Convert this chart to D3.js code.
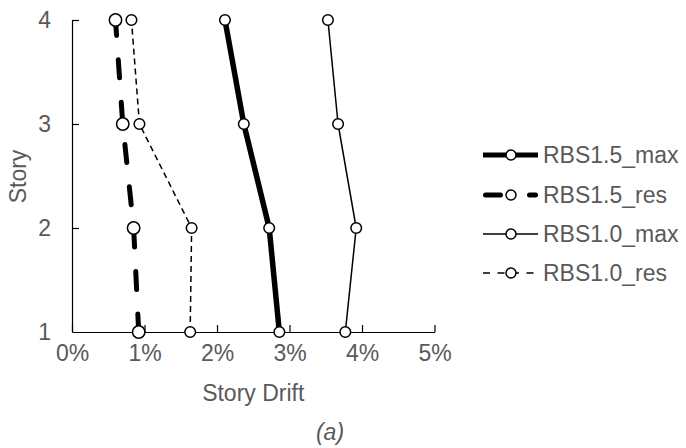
<!DOCTYPE html>
<html>
<head>
<meta charset="utf-8">
<script src="https://cdn.jsdelivr.net/npm/d3@7"></script>
<style>
  html, body { margin: 0; padding: 0; background: #fff; }
  svg { display: block; }
  text { font-family: "Liberation Sans", Arial, sans-serif; fill: #595959; }
</style>
</head>
<body>
<svg id="chart" width="686" height="448"></svg>
<script>
// Story drift per floor (percent)
const stories = [1, 2, 3, 4];
const rbs15Max = [2.86, 2.72, 2.37, 2.11];
const rbs15Res = [0.92, 0.85, 0.70, 0.60];
const rbs10Max = [3.77, 3.92, 3.67, 3.53];
const rbs10Res = [1.63, 1.65, 0.93, 0.82];

const xTicks = [0, 1, 2, 3, 4, 5];
const yTicks = [1, 2, 3, 4];

const seriesNames = ["RBS1.5_max", "RBS1.5_res", "RBS1.0_max", "RBS1.0_res"];
const seriesValues = [rbs15Max, rbs15Res, rbs10Max, rbs10Res];

// Line styles per series
const styles = [
  { width: 5.5, dash: null, cap: "butt", r: 5.3, legendDash: null },
  { width: 5, dash: "18,24.5", cap: "round", r: 6.2, legendDash: "15,29" },
  { width: 1.5, dash: null, cap: "butt", r: 5.3, legendDash: null },
  { width: 1.5, dash: "6,4", cap: "butt", r: 5.3, legendDash: "7,7.5" }
];

const svg = d3.select("#chart");
const fontSize = 23;

const x = d3.scaleLinear().domain([0, 5]).range([72, 434.5]);
const y = d3.scaleLinear().domain([1, 4]).range([332, 20]);

// Axes with inward ticks
const xAxis = d3.axisBottom(x)
  .tickValues(xTicks)
  .tickFormat(d => d + "%")
  .tickSize(-7)
  .tickSizeOuter(0)
  .tickPadding(13);

const yAxis = d3.axisLeft(y)
  .tickValues(yTicks)
  .tickFormat(d3.format("d"))
  .tickSize(-7)
  .tickSizeOuter(0)
  .tickPadding(21);

const gx = svg.append("g").attr("transform", `translate(0,${y(1)})`).call(xAxis);
const gy = svg.append("g").attr("transform", `translate(${x(0)},0)`).call(yAxis);

[gx, gy].forEach(g => {
  g.select(".domain").attr("stroke", "#000").attr("stroke-width", 1.2);
  g.selectAll(".tick line").attr("stroke", "#000").attr("stroke-width", 1.2);
  g.selectAll(".tick text")
    .attr("font-family", "Liberation Sans, Arial, sans-serif")
    .attr("font-size", fontSize)
    .attr("fill", "#595959");
});
gy.select(".tick:first-of-type line").remove();

// Axis titles
svg.append("text")
  .attr("x", (x(0) + x(5)) / 2)
  .attr("y", 401)
  .attr("text-anchor", "middle")
  .attr("font-size", fontSize)
  .text("Story Drift");

svg.append("text")
  .attr("transform", `translate(26,176.5) rotate(-90)`)
  .attr("text-anchor", "middle")
  .attr("font-size", fontSize)
  .text("Story");

svg.append("text")
  .attr("x", 330)
  .attr("y", 440)
  .attr("text-anchor", "middle")
  .attr("font-size", fontSize)
  .attr("font-style", "italic")
  .text("(a)");

// Series lines and markers
const line = d3.line()
  .x(d => x(d.v))
  .y(d => y(d.s));

seriesValues.forEach((vals, i) => {
  const st = styles[i];
  const pts = stories.map((s, k) => ({ s, v: vals[k] }));
  const g = svg.append("g");
  g.append("path")
    .datum(pts)
    .attr("d", line)
    .attr("fill", "none")
    .attr("stroke", "#000")
    .attr("stroke-width", st.width)
    .attr("stroke-linecap", st.cap)
    .attr("stroke-linejoin", "round")
    .attr("stroke-dasharray", st.dash);
  g.selectAll("circle")
    .data(pts)
    .join("circle")
    .attr("cx", d => x(d.v))
    .attr("cy", d => y(d.s))
    .attr("r", st.r)
    .attr("fill", "#fff")
    .attr("stroke", "#000")
    .attr("stroke-width", 1.5);
});

// Legend
const legendRows = [155, 195, 234, 273];
seriesNames.forEach((name, i) => {
  const st = styles[i];
  const ly = legendRows[i];
  const g = svg.append("g");
  const x1 = st.cap === "round" ? 485.5 : 483;
  const x2 = st.cap === "round" ? 535.5 : 538;
  g.append("line")
    .attr("x1", x1).attr("x2", x2)
    .attr("y1", ly).attr("y2", ly)
    .attr("stroke", "#000")
    .attr("stroke-width", st.width === 5.5 ? 5 : st.width)
    .attr("stroke-linecap", st.cap)
    .attr("stroke-dasharray", st.legendDash);
  g.append("circle")
    .attr("cx", 511).attr("cy", ly).attr("r", 5)
    .attr("fill", "#fff").attr("stroke", "#000").attr("stroke-width", 1.5);
  g.append("text")
    .attr("x", 543)
    .attr("y", ly)
    .attr("dy", "0.36em")
    .attr("font-size", fontSize)
    .text(name);
});
</script>
</body>
</html>
